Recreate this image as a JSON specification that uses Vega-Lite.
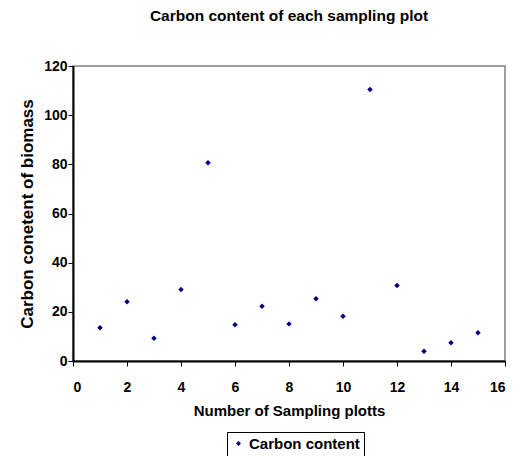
{
  "$schema": "https://vega.github.io/schema/vega-lite/v6.json",
  "autosize": {"type": "none"},
  "width": 432,
  "height": 295,
  "padding": {"left": 73, "top": 66, "right": 19, "bottom": 95},
  "background": "white",
  "title": {
    "text": "Carbon content of each sampling plot",
    "font": "Liberation Sans",
    "fontSize": 15.5,
    "fontWeight": "bold",
    "color": "black",
    "anchor": "middle",
    "offset": 35
  },
  "config": {
    "view": {"stroke": "#808080", "strokeWidth": 1.5},
    "axis": {
      "labelFont": "Liberation Sans",
      "labelFontSize": 14,
      "labelFontWeight": "bold",
      "labelColor": "black",
      "titleFont": "Liberation Sans",
      "titleFontWeight": "bold",
      "titleColor": "black",
      "domainColor": "black",
      "domainWidth": 2,
      "tickColor": "black",
      "tickSize": 5,
      "grid": false
    }
  },
  "data": {
    "values": [
      {"plot": 1, "carbon": 13.5, "series": "Carbon content"},
      {"plot": 2, "carbon": 24.1, "series": "Carbon content"},
      {"plot": 3, "carbon": 9.3, "series": "Carbon content"},
      {"plot": 4, "carbon": 29.1, "series": "Carbon content"},
      {"plot": 5, "carbon": 80.6, "series": "Carbon content"},
      {"plot": 6, "carbon": 14.7, "series": "Carbon content"},
      {"plot": 7, "carbon": 22.3, "series": "Carbon content"},
      {"plot": 8, "carbon": 15.1, "series": "Carbon content"},
      {"plot": 9, "carbon": 25.3, "series": "Carbon content"},
      {"plot": 10, "carbon": 18.2, "series": "Carbon content"},
      {"plot": 11, "carbon": 110.4, "series": "Carbon content"},
      {"plot": 12, "carbon": 30.7, "series": "Carbon content"},
      {"plot": 13, "carbon": 4.0, "series": "Carbon content"},
      {"plot": 14, "carbon": 7.4, "series": "Carbon content"},
      {"plot": 15, "carbon": 11.5, "series": "Carbon content"}
    ]
  },
  "mark": {"type": "point", "shape": "diamond", "filled": true, "size": 30, "opacity": 1},
  "encoding": {
    "x": {
      "field": "plot",
      "type": "quantitative",
      "scale": {"domain": [0, 16], "nice": false},
      "axis": {"values": [0, 2, 4, 6, 8, 10, 12, 14, 16], "title": "Number of Sampling plotts", "titleFontSize": 15, "labelPadding": 14, "titlePadding": 9}
    },
    "y": {
      "field": "carbon",
      "type": "quantitative",
      "scale": {"domain": [0, 120], "nice": false},
      "axis": {"values": [0, 20, 40, 60, 80, 100, 120], "title": "Carbon conetent of biomass", "titleFontSize": 17, "labelPadding": 1, "titlePadding": 7}
    },
    "color": {
      "field": "series",
      "type": "nominal",
      "scale": {"range": ["#000080"]},
      "legend": {
        "title": null,
        "orient": "none",
        "legendX": 154,
        "legendY": 366,
        "strokeColor": "black",
        "padding": 4,
        "symbolType": "diamond",
        "symbolSize": 24,
        "labelFont": "Liberation Sans",
        "labelFontSize": 15,
        "labelFontWeight": "bold",
        "labelColor": "black",
        "labelOffset": 3
      }
    }
  }
}
